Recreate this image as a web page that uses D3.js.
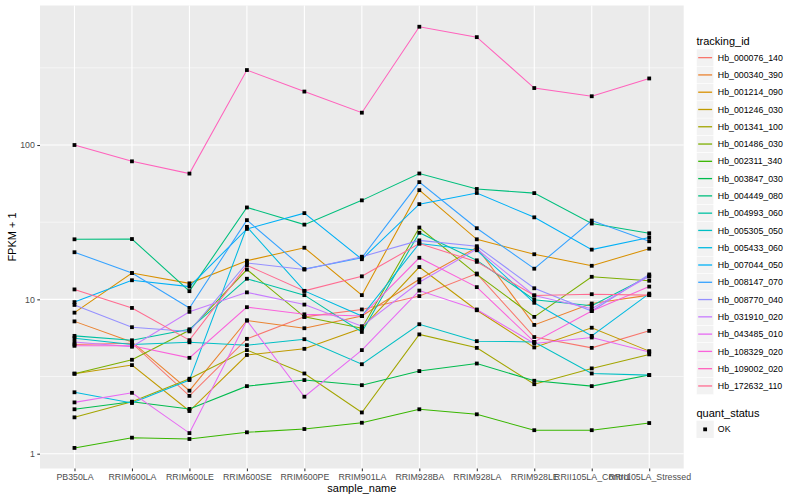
<!DOCTYPE html>
<html>
<head>
<meta charset="utf-8">
<script src="https://cdn.jsdelivr.net/npm/d3@7"></script>
<style>
  body { margin: 0; background: #fff; }
  text { font-family: "Liberation Sans", Arial, sans-serif; }
</style>
</head>
<body>
<div id="chart"></div>
<script>
// Datos (FPKM + 1)
const samples = ["PB350LA", "RRIM600LA", "RRIM600LE", "RRIM600SE", "RRIM600PE", "RRIM901LA",
  "RRIM928BA", "RRIM928LA", "RRIM928LE", "RRII105LA_Control", "RRII105LA_Stressed"];

const trackingIds = ["Hb_000076_140", "Hb_000340_390", "Hb_001214_090", "Hb_001246_030",
  "Hb_001341_100", "Hb_001486_030", "Hb_002311_340", "Hb_003847_030", "Hb_004449_080",
  "Hb_004993_060", "Hb_005305_050", "Hb_005433_060", "Hb_007044_050", "Hb_008147_070",
  "Hb_008770_040", "Hb_031910_020", "Hb_043485_010", "Hb_108329_020", "Hb_109002_020",
  "Hb_172632_110"];

// un array por tracking_id, en el orden de samples
const fpkm = [
  [5.1, 5.2, 2.37, 5.55, 7.7, 8.6, 10.5, 14.7, 5.7, 4.85, 6.25],      // Hb_000076_140
  [7.2, 5.3, 2.56, 7.3, 6.5, 7.8, 13.5, 21.7, 6.83, 9.4, 10.65],      // Hb_000340_390
  [8.2, 14.8, 12.7, 17.8, 21.6, 10.65, 51, 24.5, 19.6, 16.5, 21.3],   // Hb_001214_090
  [3.3, 3.75, 1.89, 4.36, 4.78, 6.5, 16.2, 8.5, 4.88, 6.55, 4.62],    // Hb_001246_030
  [1.72, 2.17, 3.06, 4.69, 3.31, 1.85, 5.93, 4.85, 2.82, 3.57, 4.4],  // Hb_001341_100
  [3.3, 4.06, 6.3, 15.6, 7.7, 6.5, 29.2, 14.5, 7.7, 14.0, 13.2],      // Hb_001486_030
  [1.09, 1.27, 1.245, 1.376, 1.445, 1.587, 1.94, 1.8, 1.42, 1.42, 1.58], // Hb_002311_340
  [1.94, 2.17, 1.95, 2.74, 3.0, 2.78, 3.43, 3.84, 2.97, 2.74, 3.23],  // Hb_003847_030
  [24.5, 24.6, 11.3, 39.4, 30.5, 43.8, 65.4, 51.9, 48.8, 31.0, 26.8], // Hb_004449_080
  [5.8, 5.43, 6.4, 13.6, 10.65, 6.15, 27, 17.9, 9.95, 9.1, 14.1],     // Hb_004993_060
  [5.6, 5.1, 5.27, 5.05, 5.52, 3.8, 6.9, 5.36, 5.3, 3.31, 3.23],      // Hb_005305_050
  [2.5, 2.13, 3.0, 29.5, 11.35, 7.8, 23.0, 20.8, 9.5, 5.8, 10.9],     // Hb_005433_060
  [9.6, 13.3, 12.1, 28.6, 36.2, 18.2, 41.4, 48.9, 34, 21, 25.2],      // Hb_007044_050
  [20.2, 14.8, 8.8, 32.6, 15.7, 18.6, 57.5, 28.9, 15.8, 32.4, 23.8],  // Hb_008147_070
  [9.2, 6.6, 6.2, 17.2, 15.6, 18.9, 24.1, 22.1, 11.8, 8.4, 14.5],     // Hb_008770_040
  [5.3, 4.93, 8.3, 11.1, 9.25, 6.7, 12.9, 21.2, 10.6, 8.7, 14.1],     // Hb_031910_020
  [2.15, 2.48, 1.36, 7.3, 2.34, 4.69, 11.4, 8.6, 5.18, 5.66, 4.56],   // Hb_043485_010
  [5.0, 5.0, 4.18, 8.9, 8.0, 7.8, 18.6, 12.0, 5.3, 8.4, 12.1],        // Hb_108329_020
  [100, 78.4, 65.3, 306, 222, 162, 584, 500, 234, 207, 270],          // Hb_109002_020
  [11.6, 8.8, 5.44, 16.6, 11.35, 14.1, 23.0, 17.5, 10.6, 10.8, 10.65] // Hb_172632_110
];

const yTicks = [1, 10, 100];
const yMinor = [Math.sqrt(10), Math.sqrt(1000), Math.sqrt(100000)];

// paleta hue de ggplot para 20 niveles
const palette = ["#F8766D", "#EA8331", "#D89000", "#C09B00", "#A3A500", "#7CAE00", "#39B600",
  "#00BB4E", "#00BF7D", "#00C1A3", "#00BFC4", "#00BAE0", "#00B0F6", "#35A2FF", "#9590FF",
  "#C77CFF", "#E76BF3", "#FA62DB", "#FF62BC", "#FF6C91"];

const W = 800, H = 500;
const margin = { top: 5.5, right: 116.3, bottom: 31.5, left: 40 };
const width = W - margin.left - margin.right;
const height = H - margin.top - margin.bottom;

const svg = d3.select("#chart").append("svg")
  .attr("width", W)
  .attr("height", H);

const g = svg.append("g")
  .attr("transform", `translate(${margin.left},${margin.top})`);

// escalas
const x = d3.scalePoint()
  .domain(samples)
  .range([0, width])
  .padding(0.6);

const y = d3.scaleLog()
  .domain([Math.pow(10, -0.0959), Math.pow(10, 2.904)])
  .range([height, 0]);

// panel y rejilla
g.append("rect")
  .attr("width", width)
  .attr("height", height)
  .attr("fill", "#EBEBEB");

g.selectAll(".minor")
  .data(yMinor)
  .enter().append("line")
  .attr("x1", 0).attr("x2", width)
  .attr("y1", d => y(d)).attr("y2", d => y(d))
  .attr("stroke", "#fff")
  .attr("stroke-width", 0.55);

g.selectAll(".hmajor")
  .data(yTicks)
  .enter().append("line")
  .attr("x1", 0).attr("x2", width)
  .attr("y1", d => y(d)).attr("y2", d => y(d))
  .attr("stroke", "#fff")
  .attr("stroke-width", 1.1);

g.selectAll(".vmajor")
  .data(samples)
  .enter().append("line")
  .attr("x1", d => x(d)).attr("x2", d => x(d))
  .attr("y1", 0).attr("y2", height)
  .attr("stroke", "#fff")
  .attr("stroke-width", 1.1);

// líneas
const line = d3.line()
  .x((d, i) => x(samples[i]))
  .y(d => y(d));

g.selectAll(".serie")
  .data(fpkm)
  .enter().append("path")
  .attr("d", d => line(d))
  .attr("fill", "none")
  .attr("stroke", (d, i) => palette[i])
  .attr("stroke-width", 1.05);

// puntos (cuadrados negros)
const pts = [];
fpkm.forEach(row => row.forEach((v, i) => pts.push({ s: samples[i], v: v })));
g.selectAll(".pt")
  .data(pts)
  .enter().append("rect")
  .attr("x", d => x(d.s) - 1.9)
  .attr("y", d => y(d.v) - 1.9)
  .attr("width", 3.8)
  .attr("height", 3.8)
  .attr("fill", "#000");

// ejes
const xAxis = g.append("g")
  .attr("transform", `translate(0,${height})`)
  .call(d3.axisBottom(x).tickSize(2.7).tickPadding(2.5));
const yAxis = g.append("g")
  .call(d3.axisLeft(y).tickValues(yTicks).tickFormat(d3.format("d")).tickSize(2.7).tickPadding(2.5));

[xAxis, yAxis].forEach(a => {
  a.select(".domain").remove();
  a.selectAll(".tick line").attr("stroke", "#333333").attr("stroke-width", 1.05);
  a.selectAll(".tick text")
    .attr("fill", "#4D4D4D")
    .style("font-size", "8.8px")
    .style("font-family", "Liberation Sans, Arial, sans-serif");
});

// títulos de ejes
svg.append("text")
  .attr("x", margin.left + width / 2)
  .attr("y", 492)
  .attr("text-anchor", "middle")
  .style("font-size", "11px")
  .text("sample_name");

svg.append("text")
  .attr("transform", `translate(16,${margin.top + height / 2}) rotate(-90)`)
  .attr("text-anchor", "middle")
  .style("font-size", "11px")
  .text("FPKM + 1");

// leyenda tracking_id
const leg = svg.append("g").attr("transform", "translate(696.5,0)");
leg.append("text")
  .attr("x", 0).attr("y", 44.5)
  .style("font-size", "11px")
  .text("tracking_id");

const keys = leg.selectAll(".key")
  .data(trackingIds)
  .enter().append("g")
  .attr("transform", (d, i) => `translate(0,${49 + i * 17.28})`);

keys.append("rect")
  .attr("width", 17.28).attr("height", 17.28)
  .attr("fill", "#F2F2F2")
  .attr("stroke", "#fff")
  .attr("stroke-width", 0.5);
keys.append("line")
  .attr("x1", 1.7).attr("x2", 15.6)
  .attr("y1", 8.64).attr("y2", 8.64)
  .attr("stroke", (d, i) => palette[i])
  .attr("stroke-width", 1.3);
keys.append("text")
  .attr("x", 21.3).attr("y", 11.8)
  .style("font-size", "8.8px")
  .text(d => d);

// leyenda quant_status
leg.append("text")
  .attr("x", 0).attr("y", 416.5)
  .style("font-size", "11px")
  .text("quant_status");
const qk = leg.append("g").attr("transform", "translate(0,420.7)");
qk.append("rect")
  .attr("width", 17.28).attr("height", 17.28)
  .attr("fill", "#F2F2F2");
qk.append("rect")
  .attr("x", 6.74).attr("y", 6.74)
  .attr("width", 3.8).attr("height", 3.8)
  .attr("fill", "#000");
qk.append("text")
  .attr("x", 21.3).attr("y", 11.8)
  .style("font-size", "8.8px")
  .text("OK");
</script>
</body>
</html>
